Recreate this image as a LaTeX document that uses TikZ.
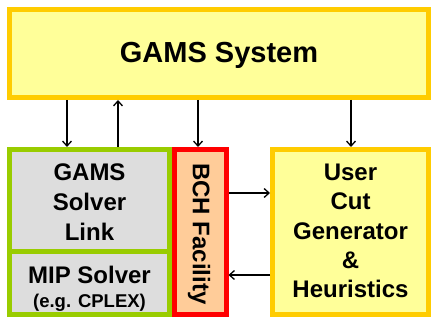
\documentclass[tikz,border=0pt]{standalone}
\usepackage{fontspec}
\setmainfont{Liberation Sans}
\usetikzlibrary{arrows.meta}
\definecolor{ylfill}{HTML}{FFFF99}
\definecolor{ylborder}{HTML}{FFCC00}
\definecolor{grborder}{HTML}{99CC00}
\definecolor{gyfill}{HTML}{DDDDDD}
\definecolor{orfill}{HTML}{FFCC99}
\definecolor{rdborder}{HTML}{FF0000}
\tikzset{
  box/.style={draw, line width=5pt, inner sep=0pt, minimum width=#1},
  ybox/.style={box=#1, draw=ylborder, fill=ylfill},
  gbox/.style={box=#1, draw=grborder, fill=gyfill},
  rbox/.style={box=#1, draw=rdborder, fill=orfill},
  txt/.style={font=\bfseries\fontsize{24}{30}\selectfont, align=center, text=black},
  arr/.style={line width=1.5pt, -{Straight Barb[length=5pt,width=9pt,line width=1.3pt]}},
}
\begin{document}
\begin{tikzpicture}[x=1pt,y=-1pt]
\useasboundingbox (0,0) rectangle (431,320);
\node[ybox=419pt, minimum height=88pt] (gams) at (219,53.5) {};
\node[txt, font=\bfseries\fontsize{29}{34}\selectfont] (gamst) at (219,55) {GAMS System};
\node[gbox=160pt, minimum height=102pt] (link) at (89.5,200.5) {};
\node[gbox=160pt, minimum height=63pt] (mip) at (89.5,283) {};
\node[rbox=52pt, minimum height=165pt] (bch) at (200,232) {};
\node[ybox=156pt, minimum height=165pt] (user) at (350.5,232) {};
\node[txt] (linkt) at (89.5,202) {GAMS\\Solver\\Link};
\node[txt, fontsize/.code={}] (mipt) at (89.5,289) {MIP Solver\\[-6pt]{\fontsize{18.5}{22}\selectfont (e.g. CPLEX)}};
\node[txt, rotate=-90] (bcht) at (199,234) {BCH Facility};
\node[txt, font=\bfseries\fontsize{24}{29.2}\selectfont] (usert) at (350.5,231) {User\\Cut\\Generator\\\&\\Heuristics};
\coordinate (c1) at (67,0);
\coordinate (c2) at (118,0);
\coordinate (c3) at (198,0);
\coordinate (c4) at (351,0);
\coordinate (r1) at (0,193);
\coordinate (r2) at (0,275);
\draw[arr] (c1 |- gams.south) -- (c1 |- link.north);
\draw[arr] (c2 |- link.north) -- (c2 |- gams.south);
\draw[arr] (c3 |- gams.south) -- (c3 |- bch.north);
\draw[arr] (c4 |- gams.south) -- (c4 |- user.north);
\draw[arr] (bch.east |- r1) -- (user.west |- r1);
\draw[arr] (user.west |- r2) -- (bch.east |- r2);
\end{tikzpicture}
\end{document}
